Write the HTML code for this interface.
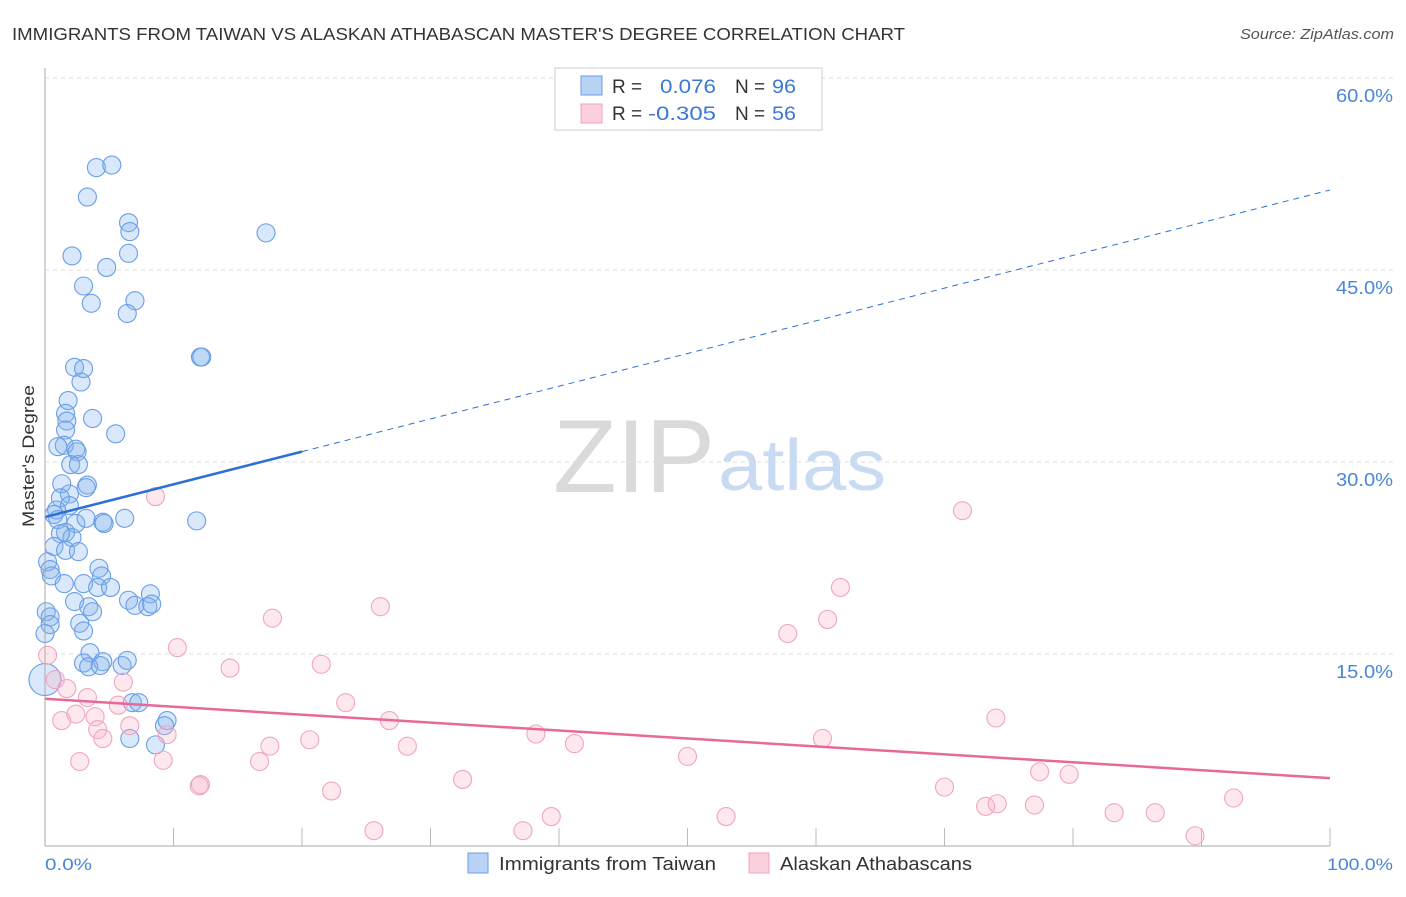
<!DOCTYPE html>
<html><head><meta charset="utf-8"><style>
body{margin:0;background:#fff;font-family:"Liberation Sans",sans-serif}
svg text{font-family:"Liberation Sans",sans-serif}
</style></head><body>
<svg id="chart" width="1406" height="892">
<text x="12" y="40" font-size="17.5" fill="#333" textLength="893" lengthAdjust="spacingAndGlyphs">IMMIGRANTS FROM TAIWAN VS ALASKAN ATHABASCAN MASTER'S DEGREE CORRELATION CHART</text>
<text x="1394" y="39" font-size="15" fill="#555" font-style="italic" text-anchor="end" textLength="154" lengthAdjust="spacingAndGlyphs">Source: ZipAtlas.com</text>
<text x="553" y="492" font-size="104" fill="#dadada" font-family="Liberation Serif,serif" textLength="162" lengthAdjust="spacingAndGlyphs">ZIP</text>
<text x="718" y="490" font-size="72" fill="#c9daf3" textLength="168" lengthAdjust="spacingAndGlyphs">atlas</text>
<g id="grid"></g><g id="pts"></g><g id="trend"></g>
<line x1="45" y1="68" x2="45" y2="846" stroke="#aaa"/>
<line x1="45" y1="846" x2="1330" y2="846" stroke="#aaa"/>
<text x="34" y="456" font-size="17" fill="#333" text-anchor="middle" transform="rotate(-90 34 456)" textLength="142" lengthAdjust="spacingAndGlyphs">Master's Degree</text>
<text x="45" y="870" font-size="17" fill="#4a86d8" textLength="47" lengthAdjust="spacingAndGlyphs">0.0%</text>
<text x="1393" y="870" font-size="17" fill="#4a86d8" text-anchor="end" textLength="66" lengthAdjust="spacingAndGlyphs">100.0%</text>
<g>
<rect x="555" y="68" width="267" height="62" fill="#fff" stroke="#ccc"/>
<rect x="581" y="76" width="21" height="19" fill="#b9d3f5" stroke="#6a9ee6"/>
<rect x="581" y="104" width="21" height="19" fill="#fbd0dd" stroke="#f0a3bb"/>
<text x="612" y="93" font-size="19" fill="#333">R =</text><text x="716" y="93" font-size="19" fill="#3b78d4" text-anchor="end" textLength="56" lengthAdjust="spacingAndGlyphs">0.076</text>
<text x="735" y="93" font-size="19" fill="#333">N =</text><text x="772" y="93" font-size="19" fill="#3b78d4" textLength="24" lengthAdjust="spacingAndGlyphs">96</text>
<text x="612" y="120" font-size="19" fill="#333">R =</text><text x="716" y="120" font-size="19" fill="#3b78d4" text-anchor="end" textLength="68" lengthAdjust="spacingAndGlyphs">-0.305</text>
<text x="735" y="120" font-size="19" fill="#333">N =</text><text x="772" y="120" font-size="19" fill="#3b78d4" textLength="24" lengthAdjust="spacingAndGlyphs">56</text>
</g>
<g>
<rect x="468" y="853" width="20" height="20" fill="#b9d3f5" stroke="#6a9ee6"/>
<text x="499" y="870" font-size="18" fill="#333" textLength="217" lengthAdjust="spacingAndGlyphs">Immigrants from Taiwan</text>
<rect x="749" y="853" width="20" height="20" fill="#fbd0dd" stroke="#f0a3bb"/>
<text x="780" y="870" font-size="18" fill="#333" textLength="192" lengthAdjust="spacingAndGlyphs">Alaskan Athabascans</text>
</g>
</svg>
<script>
const yTicks=[15,30,45,60];
const yTickLabels=["15.0%","30.0%","45.0%","60.0%"];
const blueX=[4.0,5.2,3.3,6.5,6.6,17.2,2.1,6.5,4.8,3.0,3.6,7.0,6.4,12.1,12.2,2.3,3.0,2.8,3.7,1.8,1.6,1.7,1.6,5.5,1.5,1.0,2.4,2.5,2.0,2.6,1.3,3.3,3.2,1.9,1.2,1.9,0.9,0.7,1.0,2.4,3.2,6.2,4.5,4.6,11.8,1.6,2.1,1.2,0.7,1.6,2.6,0.2,0.4,0.5,4.2,4.4,3.0,1.5,4.1,5.1,2.3,6.5,3.4,3.7,7.0,8.2,8.0,8.3,0.1,0.4,0.4,2.7,3.0,0,3.5,3.0,3.4,4.5,6.0,6.4,4.3,6.8,7.3,6.6,8.6,9.5,9.3,0];
const blueY=[53.0,53.2,50.7,48.7,48.0,47.9,46.1,46.3,45.2,43.75,42.4,42.6,41.6,38.2,38.2,37.4,37.3,36.25,33.4,34.8,33.8,33.2,32.5,32.2,31.3,31.2,31.0,30.8,29.8,29.8,28.3,28.2,28.0,27.5,27.2,26.6,26.25,25.9,25.5,25.2,25.6,25.6,25.3,25.2,25.4,24.5,24.1,24.4,23.4,23.1,23.0,22.2,21.6,21.1,21.7,21.1,20.5,20.5,20.2,20.2,19.1,19.2,18.7,18.3,18.8,19.7,18.7,18.9,18.3,17.9,17.3,17.4,16.8,16.6,15.1,14.3,14.0,14.4,14.1,14.5,14.1,11.2,11.2,8.4,7.9,9.8,9.4,13.0];
const pinkX=[8.6,71.4,61.9,26.1,17.7,60.9,57.8,10.3,14.4,21.5,0.2,0.8,1.7,6.1,3.3,23.4,1.3,2.4,3.9,5.7,26.8,74.0,4.1,6.6,4.5,9.5,20.6,17.5,28.2,38.2,41.2,60.5,2.7,9.2,16.7,50.0,77.4,79.7,32.5,12.1,22.3,70.0,73.2,74.1,77.0,92.5,39.4,53.0,83.2,86.4,25.6,37.2,89.5,12.0];
const pinkY=[27.3,26.2,20.2,18.7,17.8,17.7,16.6,15.5,13.9,14.2,14.9,13.0,12.3,12.8,11.6,11.2,9.8,10.3,10.1,11.0,9.8,10.0,9.1,9.4,8.4,8.7,8.3,7.8,7.8,8.75,8.0,8.4,6.6,6.7,6.6,7.0,5.8,5.6,5.2,4.8,4.3,4.6,3.1,3.3,3.2,3.75,2.3,2.3,2.6,2.6,1.2,1.2,0.8,4.7];
const blueTrend=[25.7,51.25];
const pinkTrend=[11.5,5.3];
const blueSolidEnd=20;
const NS="http://www.w3.org/2000/svg";
const xs=v=>45+v*12.85, ys=v=>846-v*12.8;
function mk(t,a,p){const e=document.createElementNS(NS,t);for(const k in a)e.setAttribute(k,a[k]);document.getElementById(p).appendChild(e);return e;}
yTicks.forEach((t,i)=>{
 const l=mk('line',{x1:45,x2:1393,y1:ys(t),y2:ys(t),stroke:'#ddd','stroke-dasharray':'4,4'},'grid');
 
 
 const tx=mk('text',{x:1393,y:ys(t)+24,'font-size':18,fill:'#4a86d8','text-anchor':'end',textLength:57,lengthAdjust:'spacingAndGlyphs'},'grid');
 tx.textContent=yTickLabels[i];
 
 
});
for(let i=1;i<=10;i++){
 const l=mk('line',{x1:xs(i*10),x2:xs(i*10),y1:828,y2:846,stroke:'#bbb'},'grid');
 
 
}
blueX.forEach((x,i)=>{
 const c=mk('circle',{cx:xs(x),cy:ys(blueY[i]),r:(i==blueX.length-1?16:9),fill:'rgba(130,178,238,0.3)',stroke:'#6a9ee6','stroke-width':1.1},'pts');
 
 
});
pinkX.forEach((x,i)=>{
 const c=mk('circle',{cx:xs(x),cy:ys(pinkY[i]),r:9,fill:'rgba(247,178,200,0.3)',stroke:'#f0a6be','stroke-width':1.1},'pts');
 
 
});
const bAt=x=>blueTrend[0]+(blueTrend[1]-blueTrend[0])*x/100;
let t1=mk('line',{x1:xs(0),y1:ys(bAt(0)),x2:xs(blueSolidEnd),y2:ys(bAt(blueSolidEnd)),stroke:'#2c6fd6','stroke-width':2.5},'trend');


let t2=mk('line',{x1:xs(blueSolidEnd),y1:ys(bAt(blueSolidEnd)),x2:xs(100),y2:ys(bAt(100)),stroke:'#2c6fd6','stroke-width':1,'stroke-dasharray':'6,5'},'trend');


let t3=mk('line',{x1:xs(0),y1:ys(pinkTrend[0]),x2:xs(100),y2:ys(pinkTrend[1]),stroke:'#e8689a','stroke-width':2.5},'trend');


</script>
</body></html>
